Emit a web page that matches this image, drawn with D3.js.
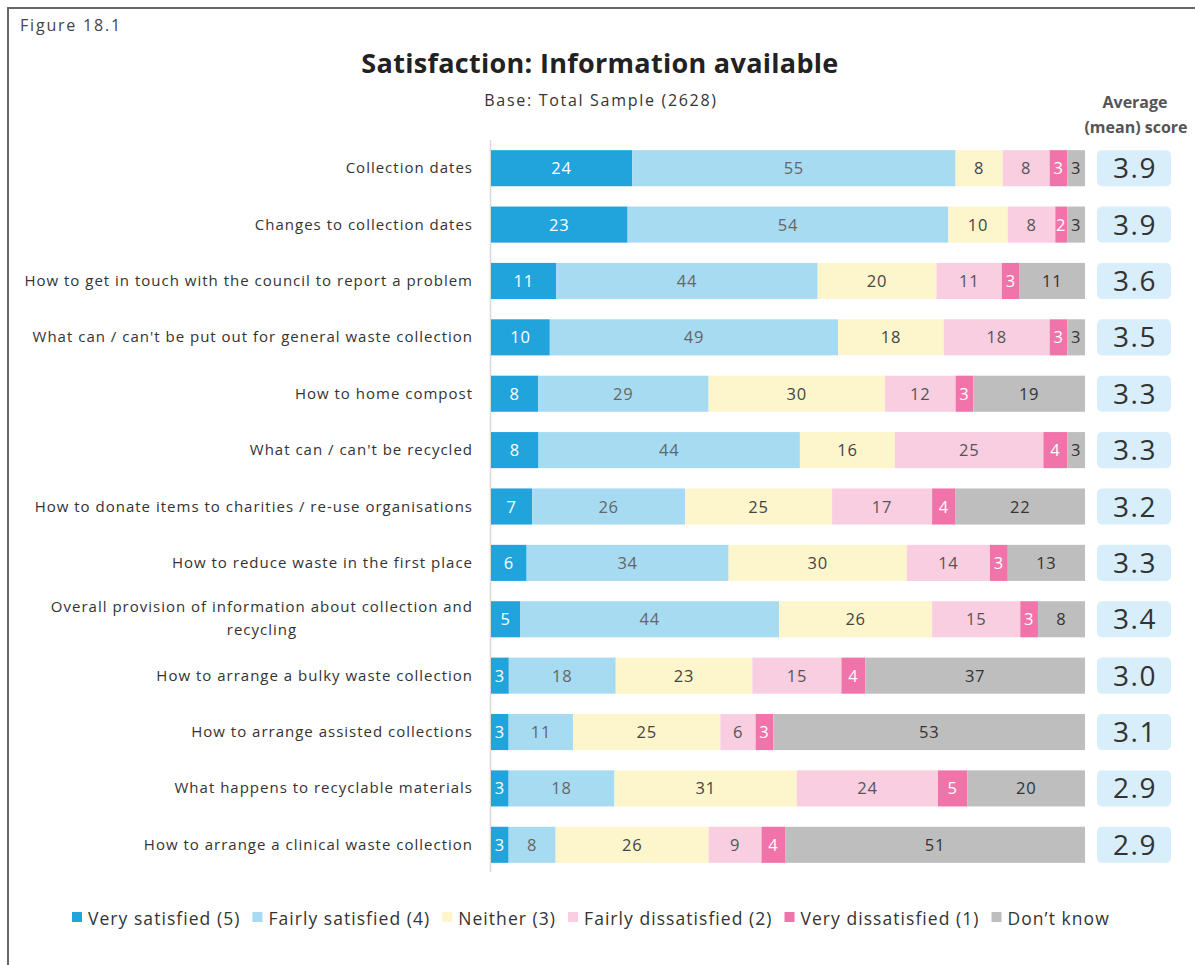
<!DOCTYPE html>
<html>
<head>
<meta charset="utf-8">
<script src="https://cdn.jsdelivr.net/npm/d3@7"></script>
<style>
  html, body { margin: 0; padding: 0; background: #fff; }
  svg { display: block; }
  text { font-family: "Open Sans", "Noto Sans", sans-serif; }
</style>
</head>
<body>
<svg id="chart" width="1195" height="965"></svg>
<script>
const categories = [
  "Collection dates",
  "Changes to collection dates",
  "How to get in touch with the council to report a problem",
  "What can / can't be put out for general waste collection",
  "How to home compost",
  "What can / can't be recycled",
  "How to donate items to charities / re-use organisations",
  "How to reduce waste in the first place",
  "Overall provision of information about collection and|recycling",
  "How to arrange a bulky waste collection",
  "How to arrange assisted collections",
  "What happens to recyclable materials",
  "How to arrange a clinical waste collection"
];
const seriesNames = ["Very satisfied (5)", "Fairly satisfied (4)", "Neither (3)", "Fairly dissatisfied (2)", "Very dissatisfied (1)", "Don\u2019t know"];
const verySatisfied      = [24, 23, 11, 10, 8, 8, 7, 6, 5, 3, 3, 3, 3];
const fairlySatisfied    = [55, 54, 44, 49, 29, 44, 26, 34, 44, 18, 11, 18, 8];
const neither            = [8, 10, 20, 18, 30, 16, 25, 30, 26, 23, 25, 31, 26];
const fairlyDissatisfied = [8, 8, 11, 18, 12, 25, 17, 14, 15, 15, 6, 24, 9];
const veryDissatisfied   = [3, 2, 3, 3, 3, 4, 4, 3, 3, 4, 3, 5, 4];
const dontKnow           = [3, 3, 11, 3, 19, 3, 22, 13, 8, 37, 53, 20, 51];
const meanScores = ["3.9", "3.9", "3.6", "3.5", "3.3", "3.3", "3.2", "3.3", "3.4", "3.0", "3.1", "2.9", "2.9"];

const seriesValues = [verySatisfied, fairlySatisfied, neither, fairlyDissatisfied, veryDissatisfied, dontKnow];
const colors = ["#21a4dc", "#a7dbf2", "#fdf6cc", "#f9cee1", "#f074aa", "#bebebe"];
const labelColors = ["#ffffff", "#666666", "#444444", "#555555", "#ffffff", "#333333"];

const svg = d3.select("#chart");

// frame
svg.append("path").attr("d", "M8,966 L8,8 L1196,8").attr("fill", "none").attr("stroke", "#666").attr("stroke-width", 2);

svg.append("text").attr("x", 20).attr("y", 31).attr("font-size", 16).attr("letter-spacing", 1.8).attr("fill", "#444").text("Figure 18.1");
svg.append("text").attr("x", 600).attr("y", 73).attr("text-anchor", "middle").attr("font-size", 27).attr("letter-spacing", 0.3).attr("font-weight", "bold").attr("fill", "#222").text("Satisfaction: Information available");
svg.append("text").attr("x", 601).attr("y", 106).attr("text-anchor", "middle").attr("font-size", 16).attr("letter-spacing", 1.7).attr("fill", "#333").text("Base: Total Sample (2628)");
svg.append("text").attr("x", 1135).attr("y", 108).attr("text-anchor", "middle").attr("font-size", 16).attr("font-weight", "bold").attr("fill", "#555").text("Average");
svg.append("text").attr("x", 1136).attr("y", 133).attr("text-anchor", "middle").attr("font-size", 16).attr("font-weight", "bold").attr("fill", "#555").text("(mean) score");

const rows = categories.map((c, i) => {
  const vals = seriesValues.map(s => s[i]);
  const total = d3.sum(vals);
  let acc = 0;
  const segs = vals.map((v, k) => { const s = {k, v, x0: acc / total, x1: (acc + v) / total}; acc += v; return s; });
  return {cat: c, segs, score: meanScores[i]};
});

const x = d3.scaleLinear().domain([0, 1]).range([491, 1085]);
const y = d3.scaleBand().domain(d3.range(categories.length)).range([140, 873]).paddingInner(0.36).paddingOuter(0.18);

// axis line
svg.append("line").attr("x1", 490.5).attr("x2", 490.5).attr("y1", 140).attr("y2", 872).attr("stroke", "#d9d9d9").attr("stroke-width", 1.5);

const g = svg.append("g");
const labFont = 15, labSp = 1.0;
rows.forEach((r, i) => {
  const yy = y(i), h = y.bandwidth(), cy = yy + h / 2;
  r.segs.forEach(s => {
    g.append("rect").attr("x", x(s.x0)).attr("y", yy).attr("width", x(s.x1) - x(s.x0)).attr("height", h).attr("fill", colors[s.k]);
    g.append("text").attr("x", (x(s.x0) + x(s.x1)) / 2).attr("y", cy + 6).attr("text-anchor", "middle")
      .attr("font-size", 16.5).attr("letter-spacing", 0.8).attr("fill", labelColors[s.k]).text(s.v);
  });
  // category label
  const parts = r.cat.split("|");
  if (parts.length === 1) {
    g.append("text").attr("x", 473).attr("y", cy + 5).attr("text-anchor", "end").attr("font-size", labFont).attr("letter-spacing", labSp).attr("fill", "#333").text(parts[0]);
  } else {
    const t1 = g.append("text").attr("x", 473).attr("y", cy - 7).attr("text-anchor", "end").attr("font-size", labFont).attr("letter-spacing", labSp).attr("fill", "#333").text(parts[0]);
    const w = t1.node().getComputedTextLength();
    g.append("text").attr("x", 473 - w / 2).attr("y", cy + 16).attr("text-anchor", "middle").attr("font-size", labFont).attr("letter-spacing", labSp).attr("fill", "#333").text(parts[1]);
  }
  // score box
  g.append("rect").attr("x", 1097).attr("y", yy).attr("width", 74).attr("height", h).attr("rx", 5).attr("fill", "#d8eefa");
  g.append("text").attr("x", 1135).attr("y", cy + 10).attr("text-anchor", "middle").attr("font-size", 28).attr("letter-spacing", 1.5).attr("fill", "#333").text(r.score);
});

// legend
const lg = svg.append("g");
let lx = 72;
seriesNames.forEach((n, k) => {
  lg.append("rect").attr("x", lx).attr("y", 912).attr("width", 10).attr("height", 10).attr("fill", colors[k]);
  const t = lg.append("text").attr("x", lx + 16).attr("y", 925).attr("font-size", 17.5).attr("letter-spacing", 1.05).attr("fill", "#333").text(n);
  lx += 16 + t.node().getComputedTextLength() + 12;
});
</script>
</body>
</html>
